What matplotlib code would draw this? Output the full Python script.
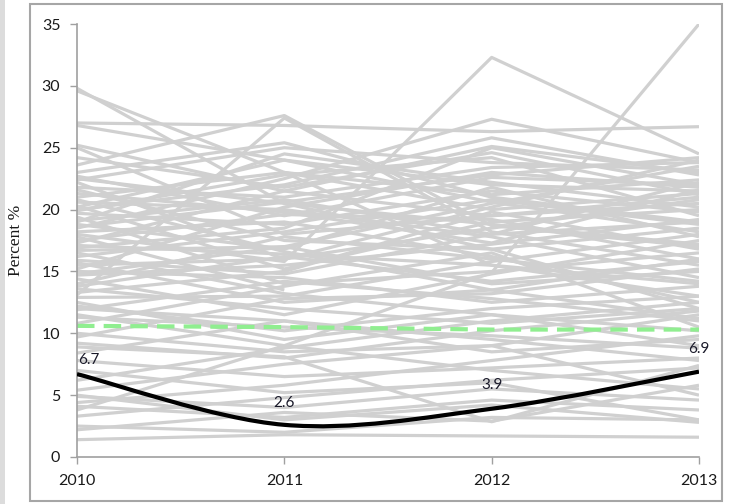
import numpy as np
import matplotlib
matplotlib.use("Agg")
import matplotlib.pyplot as plt
from matplotlib.path import Path
from matplotlib.patches import PathPatch, Rectangle

# years on the x axis
years = [2010, 2011, 2012, 2013]

# one gray line per unit; value per year (nan = missing)
nan = np.nan
v2010 = [29.8, 29.6, 27.0, 26.8, 25.2, 25.0, 23.6, 13.1, 23.0, 22.7,
         22.2, 21.8, 21.6, 21.0, 20.6, 20.3, 20.0, 19.7, 19.4, 19.1,
         18.8, 18.5, 18.2, 17.8, 17.3, 16.7, 16.2, 15.7, 15.5, 15.2,
         15.0, 14.7, 14.4, 14.0, 13.6, 13.3, 12.9, 12.5, 11.9, 11.3,
         9.7, 9.2, 8.4, 7.8, 5.4, 4.9, 4.4, 4.1, 3.3, 2.5,
         2.2, 1.4, nan, 18.0, 19.9, 21.3, 16.9, 17.1, 14.8, 10.8,
         12.2, 6.2, 3.8, 8.9, 19.0, 22.5, 16.5, 20.8, 11.5, 7.0,
         5.0, 18.6, 15.9, 13.8, 20.2, 17.5, 12.0, 10.0, 24.2, 22.4]
v2011 = [20.5, 23.0, 26.8, 24.0, 21.5, 18.0, 27.6, 27.4, 25.4, 19.5,
         16.0, 21.0, 17.5, 23.0, 20.0, 15.2, 22.0, 18.8, 14.0, 20.8,
         16.8, 22.5, 19.0, 13.5, 21.5, 17.0, 18.2, 12.5, 16.0, 20.2,
         14.5, 15.5, 11.5, 17.8, 12.0, 15.0, 13.0, 9.5, 14.2, 10.5,
         12.8, 8.0, 11.0, 6.5, 7.5, 4.0, 5.8, 3.2, 4.8, 2.0,
         3.6, 1.8, 23.0, 15.8, 22.8, 19.8, 18.5, 16.4, 17.0, 13.8,
         10.2, 8.8, 9.0, 8.1, 24.5, 20.5, 13.2, 16.6, 9.0, 5.2,
         3.0, 20.6, 14.8, 16.2, 24.0, 19.6, 11.0, 8.5, 21.8, 25.0]
v2012 = [18.8, 15.5, 26.3, 22.0, 25.1, 19.5, 18.7, 18.2, 21.0, 22.6,
         20.2, 23.4, 16.8, 20.0, 17.8, 19.0, 25.8, 21.5, 15.0, 18.0,
         21.8, 27.3, 16.2, nan, 19.5, 14.0, 20.8, 13.5, 18.5, 23.0,
         12.5, 17.2, 14.8, 16.0, 10.8, 19.8, 15.8, 11.5, 12.8, 9.8,
         13.2, 10.2, 8.5, 7.2, 9.0, 5.5, 7.8, 4.6, 6.2, 3.2,
         2.9, 1.7, 21.2, 32.3, 24.2, 17.3, 25.0, 15.5, 20.5, 16.5,
         12.0, 11.0, 14.9, 2.85, 22.2, 16.8, 11.5, 13.5, 7.0, 6.0,
         4.2, 22.8, 18.0, 14.2, 20.6, 19.2, 9.5, 9.0, 24.6, 23.8]
v2013 = [17.2, 13.0, 26.7, 21.5, 23.0, 20.5, 17.0, 15.5, 19.0, 22.0,
         24.0, 23.8, 18.5, 21.3, 14.5, 20.0, 22.8, 19.8, 16.5, 22.2,
         17.8, 23.8, 12.5, nan, 21.0, 15.0, 18.8, 16.0, 20.8, 21.8,
         13.8, 19.2, 17.5, 14.2, 12.0, 16.8, 18.0, 10.2, 11.0, 8.8,
         15.2, 11.8, 9.5, 8.0, 5.0, 4.6, 9.8, 3.8, 7.2, 3.0,
         5.8, 1.6, 22.4, 24.5, 19.5, 21.6, 22.0, 14.0, 23.5, 10.5,
         13.0, 12.5, 35.0, 7.4, 20.2, 12.0, 9.0, 11.2, 5.5, 3.0,
         2.8, 24.2, 19.0, 15.8, 18.2, 16.0, 7.8, 11.5, 21.2, 23.2]

# highlighted series
black_vals = [6.7, 2.6, 3.9, 6.9]
green_vals = [10.6, 10.5, 10.3, 10.3]

fig = plt.figure(figsize=(7.32, 5.04), dpi=100)
fig.patch.set_facecolor("white")

# outer frame and gray strip at left edge
fig.patches.append(Rectangle((0, 0), 5 / 732, 1, transform=fig.transFigure,
                             facecolor="#dcdcdc", edgecolor="none", zorder=0))
fig.patches.append(Rectangle((30 / 732, 3 / 504), 692 / 732, 497 / 504,
                             transform=fig.transFigure, facecolor="none",
                             edgecolor="#a6a6a6", linewidth=1.5, zorder=0))

ax = fig.add_axes([77 / 732, 47 / 504, 622 / 732, 433 / 504])

grays = np.array([v2010, v2011, v2012, v2013])
for i in range(grays.shape[1]):
    ax.plot(years, grays[:, i], color="#d0d0d0", linewidth=2.3,
            solid_capstyle="butt", zorder=1)

ax.plot(years, green_vals, color="#90ee90", linewidth=3,
        dashes=(4.2, 2.2), zorder=2)

# smoothed black line (cubic bezier through the points)
xs = np.array(years, dtype=float)
ys = np.array(black_vals, dtype=float)
px = np.concatenate([[xs[0]], xs, [xs[-1]]])
py = np.concatenate([[ys[0]], ys, [ys[-1]]])
verts = [(xs[0], ys[0])]
codes = [Path.MOVETO]
for i in range(len(xs) - 1):
    mx0 = (px[i + 2] - px[i]) / 6
    my0 = (py[i + 2] - py[i]) / 6
    mx1 = (px[i + 3] - px[i + 1]) / 6
    my1 = (py[i + 3] - py[i + 1]) / 6
    verts += [(xs[i] + mx0, ys[i] + my0),
              (xs[i + 1] - mx1, ys[i + 1] - my1),
              (xs[i + 1], ys[i + 1])]
    codes += [Path.CURVE4] * 3
ax.add_patch(PathPatch(Path(verts, codes), facecolor="none",
                       edgecolor="black", linewidth=3, zorder=3))

label_offsets = [(1, 10), (0, 16), (0, 17), (0, 16.5)]
label_ha = ["left", "center", "center", "center"]
for x, y, off, ha in zip(years, black_vals, label_offsets, label_ha):
    ax.annotate(f"{y:.1f}", (x, y), xytext=off, textcoords="offset points",
                ha=ha, va="center", fontsize=11, family="Lato",
                color="#1a1a2a", zorder=4)

ax.set_xlim(2010, 2013)
ax.set_ylim(0, 35)
ax.set_xticks(years)
ax.set_xticklabels([str(y) for y in years])
ax.set_yticks(range(0, 36, 5))

for side in ["top", "right"]:
    ax.spines[side].set_visible(False)
for side in ["left", "bottom"]:
    ax.spines[side].set_color("#a0a0a0")
    ax.spines[side].set_linewidth(1.2)

ax.tick_params(axis="both", direction="out", length=5, width=1,
               color="#a0a0a0", labelsize=11.5, labelcolor="#1a1a1a", pad=7)
for lbl in ax.get_xticklabels() + ax.get_yticklabels():
    lbl.set_family("Lato")

ax.set_ylabel("Percent %", family="Liberation Serif", fontsize=12.5,
              color="#1a1a1a", va="center")
ax.yaxis.set_label_coords(-0.098, 0.5)

fig.savefig("out.png", dpi=100)
